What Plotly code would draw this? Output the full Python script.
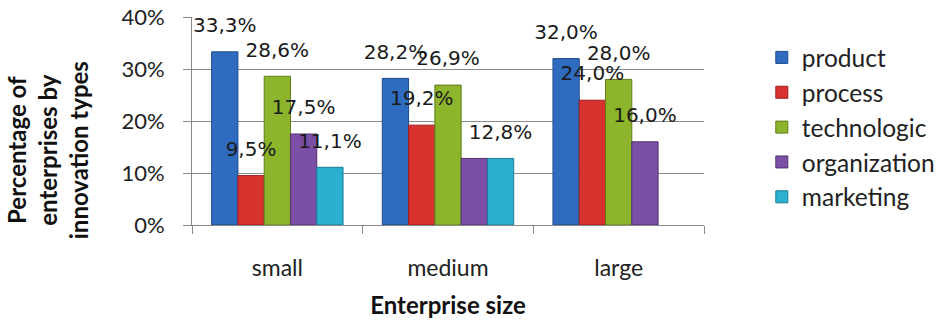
import plotly.graph_objects as go

categories = ["small", "medium", "large"]
series_names = ["product", "process", "technologic", "organization", "marketing"]
product = [33.3, 28.2, 32.0]
process = [9.5, 19.2, 24.0]
technologic = [28.6, 26.9, 28.0]
organization = [17.5, 12.8, 16.0]
marketing = [11.1, 12.8, None]
# data labels not shown in the reference (series, category)
hidden_labels = [("organization", "medium")]
colors = ["#2f6cc0", "#d8322f", "#8db52c", "#7a4fa5", "#2cb0d2"]
line_colors = ["#1d4a8c", "#9a1f1d", "#5f7d1a", "#523270", "#1a7d96"]
y_ticks = [0, 10, 20, 30, 40]
y_tick_labels = ["0%", "10%", "20%", "30%", "40%"]

values = [product, process, technologic, organization, marketing]

fig = go.Figure()
for name, vals, c, lc in zip(series_names, values, colors, line_colors):
    fig.add_trace(go.Bar(
        name=name, x=categories, y=vals,
        marker=dict(color=c, line=dict(color=lc, width=1)),
        hoverinfo="skip",
    ))

# data labels drawn on top of all bars
for name, vals in zip(series_names, values):
    texts = []
    for cat, v in zip(categories, vals):
        if v is None or (name, cat) in hidden_labels:
            texts.append("")
        else:
            texts.append(f"{v:.1f}%".replace(".", ","))
    fig.add_trace(go.Scatter(
        x=categories, y=vals, mode="markers+text", text=texts,
        textposition="top center", showlegend=False, hoverinfo="skip",
        marker=dict(size=22, opacity=0), cliponaxis=False,
        textfont=dict(family="DejaVu Sans", size=20, color="#1a1a1a"),
    ))

fig.update_layout(
    width=944, height=327,
    margin=dict(l=192, r=240, t=17, b=102, autoexpand=False),
    paper_bgcolor="white", plot_bgcolor="white",
    barmode="group", bargap=0.23, bargroupgap=0,
    scattermode="group", scattergap=0.23,
    showlegend=True,
    legend=dict(
        xref="container", yref="container", x=0.807, y=0.893, xanchor="left", yanchor="top",
        font=dict(family="Lato", size=24.5, color="#222"),
        itemwidth=30, traceorder="normal", maxheight=320,
    ),
    xaxis=dict(
        type="category", showline=True, linecolor="#8a8a8a", linewidth=1,
        ticks="outside", tickson="boundaries", ticklen=8, tickcolor="#8a8a8a",
        ticklabelstandoff=22, automargin=False,
        tickfont=dict(family="Lato", size=23, color="#222"),
        title=dict(text="<b>Enterprise size</b>", font=dict(family="Lato", size=24, color="#111"), standoff=17),
    ),
    yaxis=dict(
        range=[0, 40], tickvals=y_ticks, ticktext=y_tick_labels,
        showline=True, linecolor="#8a8a8a", linewidth=1,
        ticks="outside", ticklen=8, tickcolor="#8a8a8a", ticklabelstandoff=14,
        showgrid=True, gridcolor="#8a8a8a", gridwidth=1, automargin=False,
        tickfont=dict(family="Lato", size=22, color="#222"),
        zeroline=False,
    ),
    annotations=[dict(
        text="<b>Percentage of<br>enterprises by<br>innovation types</b>",
        xref="paper", yref="paper", x=-0.283, y=0.36, textangle=-90,
        showarrow=False, font=dict(family="Lato", size=24, color="#111"),
        xanchor="center", yanchor="middle",
    )],
)

fig.write_html("out.html", config={"displayModeBar": False},
               post_script="document.body.style.margin='0';")
